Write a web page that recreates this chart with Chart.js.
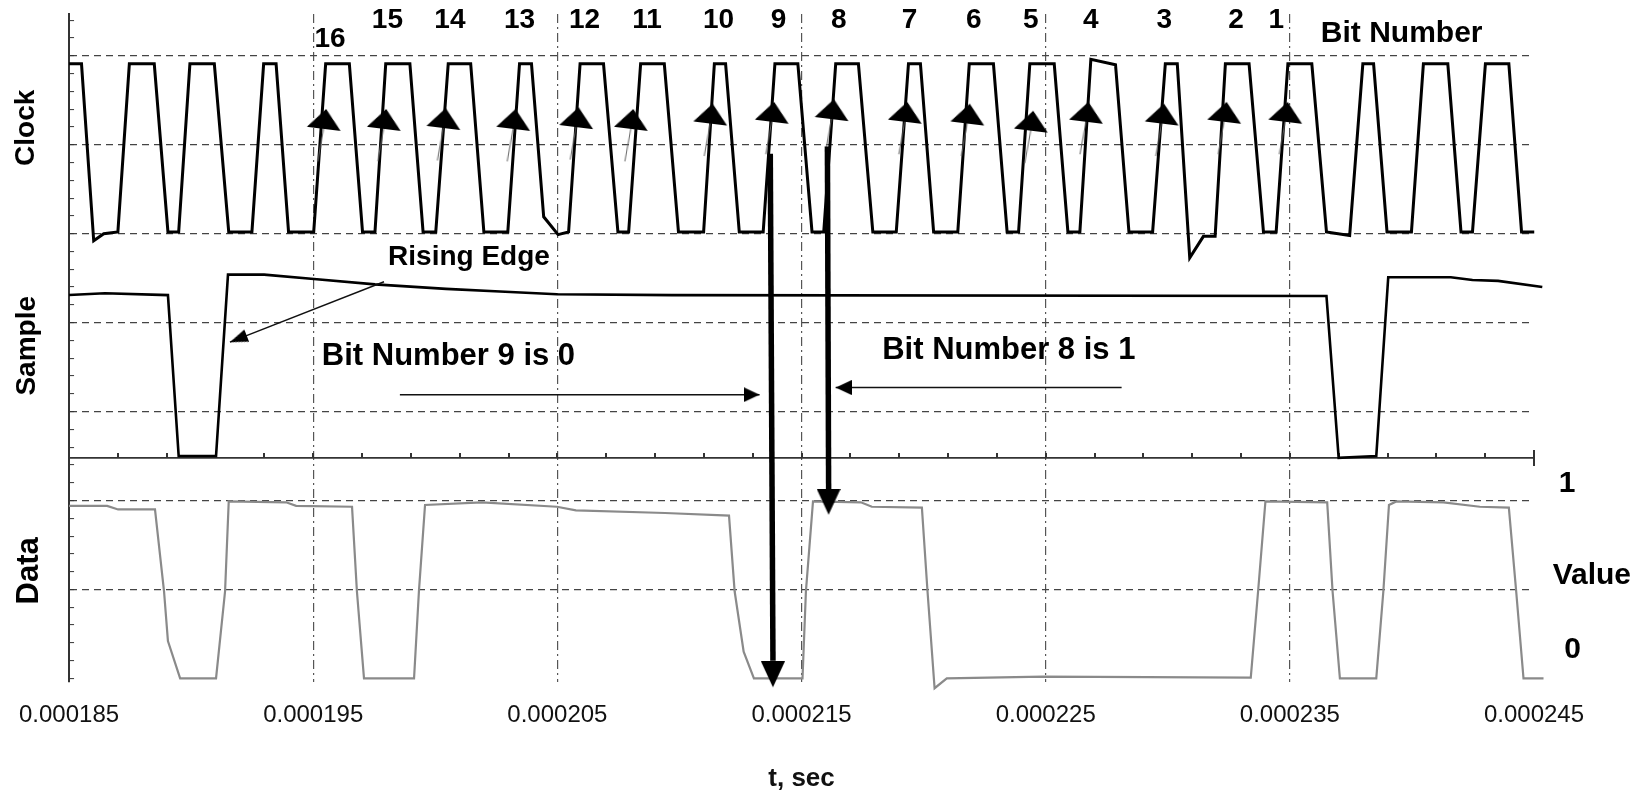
<!DOCTYPE html>
<html>
<head>
<meta charset="utf-8">
<script src="https://cdn.jsdelivr.net/npm/chart.js@4.4.1/dist/chart.umd.min.js"></script>
<style>
  html, body { margin: 0; padding: 0; background: #ffffff; }
  #wrap { width: 1650px; height: 793px; }
</style>
</head>
<body>
<div id="wrap"><canvas id="c" width="1650" height="793"></canvas></div>
<script>
// ---------------- DATA (time in microseconds, values in chart units) ----------------
const xTickValues = [185, 195, 205, 215, 225, 235, 245];
const xTickLabels = ['0.000185', '0.000195', '0.000205', '0.000215', '0.000225', '0.000235', '0.000245'];

// Clock trace (vertices)
const clockT = [
  185.00, 185.51, 186.01, 186.42, 187.00,
  187.47, 188.49, 189.05, 189.49,
  189.95, 190.95, 191.54, 192.49,
  192.97, 193.48, 193.99, 195.02,
  195.51, 196.48, 197.02, 197.53,
  197.97, 198.96, 199.50, 200.02,
  200.53, 201.45, 201.99, 202.97,
  203.45, 203.94, 204.44, 205.03, 205.46,
  205.93, 206.89, 207.48, 207.92,
  208.41, 209.38, 209.96, 210.99,
  211.43, 211.89, 212.45, 213.43,
  213.91, 214.85, 215.43, 215.91,
  216.40, 217.33, 217.92, 218.88,
  219.38, 219.87, 220.41, 221.40,
  221.87, 222.86, 223.42, 223.89,
  224.35, 225.35, 225.91, 226.40,
  226.85, 227.86, 228.41, 229.38,
  229.90, 230.39, 230.90, 231.46, 231.94,
  232.36, 233.33, 233.92, 234.44,
  234.92, 235.90, 236.50, 237.45,
  237.99, 238.43, 238.98, 239.98,
  240.47, 241.47, 242.01, 242.48,
  243.01, 243.97, 244.49, 245.01,
  245.34
];
const clockV = [
  6.91, 6.91, 4.92, 5.00, 5.02,
  6.91, 6.91, 5.02, 5.02,
  6.91, 6.91, 5.02, 5.02,
  6.91, 6.91, 5.02, 5.02,
  6.91, 6.91, 5.02, 5.02,
  6.91, 6.91, 5.02, 5.02,
  6.91, 6.91, 5.02, 5.02,
  6.91, 6.91, 5.19, 4.99, 5.02,
  6.91, 6.91, 5.02, 5.02,
  6.91, 6.91, 5.02, 5.02,
  6.91, 6.91, 5.02, 5.02,
  6.91, 6.91, 5.02, 5.02,
  6.91, 6.91, 5.02, 5.02,
  6.91, 6.91, 5.02, 5.02,
  6.91, 6.91, 5.02, 5.02,
  6.91, 6.91, 5.02, 5.02,
  6.96, 6.90, 5.02, 5.02,
  6.91, 6.91, 4.73, 4.97, 4.97,
  6.91, 6.91, 5.02, 5.02,
  6.91, 6.91, 5.02, 4.98,
  6.91, 6.91, 5.02, 5.02,
  6.91, 6.91, 5.02, 5.02,
  6.91, 6.91, 5.02, 5.02,
  5.79
];

// Sample trace
const sampleT = [185.00, 186.47, 189.05, 189.49, 191.02, 191.51, 192.99, 195.03, 197.53, 200.44, 202.65,
                 204.98, 209.69, 236.50, 237.00, 238.54, 239.03, 241.59, 242.48, 243.53, 245.34];
const sampleV = [4.31, 4.33, 4.31, 2.50, 2.50, 4.54, 4.54, 4.49, 4.43, 4.38, 4.35,
                 4.32, 4.31, 4.30, 2.48, 2.50, 4.51, 4.51, 4.48, 4.47, 4.40];

// Data trace
const dataT = [185.00, 186.56, 187.01, 188.52, 188.89, 189.05, 189.55, 191.02, 191.39, 191.54,
               193.89, 194.30, 196.59, 196.79, 197.08, 199.13, 199.33, 199.58, 201.91, 204.98,
               205.76, 209.41, 212.03, 212.26, 212.63, 213.05, 215.04, 215.18, 215.47, 217.43,
               217.88, 219.93, 220.16, 220.45, 220.95, 224.89, 233.40, 233.70, 234.00, 236.53,
               236.75, 237.05, 238.54, 238.83, 239.06, 239.36, 241.29, 242.78, 243.97, 244.27,
               244.57, 245.39];
const dataV = [1.94, 1.94, 1.90, 1.90, 0.98, 0.42, 0.00, 0.00, 0.98, 1.99,
               1.98, 1.94, 1.93, 0.98, 0.00, 0.00, 0.98, 1.95, 1.98, 1.93,
               1.89, 1.86, 1.83, 0.98, 0.30, 0.00, 0.00, 0.98, 1.99, 1.98,
               1.93, 1.92, 0.98, -0.11, 0.00, 0.02, 0.01, 0.98, 1.99, 1.98,
               0.98, 0.00, 0.00, 0.98, 1.95, 1.99, 1.98, 1.93, 1.92, 0.98,
               0.00, 0.00];

// Bit markers on clock rising edges
const bitLabels = ['16', '15', '14', '13', '12', '11', '10', '9', '8', '7', '6', '5', '4', '3', '2', '1'];
const bitArrowT = [195.48, 197.94, 200.38, 203.24, 205.82, 208.06, 211.31, 213.83, 216.28, 219.28, 221.84, 224.44, 226.70, 229.80, 232.36, 234.86];
const bitArrowV = [6.29, 6.29, 6.30, 6.29, 6.31, 6.29, 6.35, 6.37, 6.40, 6.37, 6.35, 6.27, 6.37, 6.35, 6.37, 6.37];
const bitLabelT = [195.69, 198.04, 200.60, 203.45, 206.11, 208.67, 211.60, 214.06, 216.53, 219.42, 222.06, 224.39, 226.85, 229.86, 232.80, 234.44];
const bitLabelV = [7.19, 7.40, 7.40, 7.40, 7.40, 7.40, 7.40, 7.40, 7.40, 7.40, 7.40, 7.40, 7.40, 7.40, 7.40, 7.40];

// Sample-panel baseline and its small ticks
const sampleAxisT = [185, 245];
const sampleAxisV = [2.48, 2.48];
const sampleAxisTickT = [187, 189, 191, 193, 195, 197, 199, 201, 203, 205, 207, 209, 211, 213, 215,
                         217, 219, 221, 223, 225, 227, 229, 231, 233, 235, 237, 239, 241, 243];

// Thick arrows (bit 9 -> data 0, bit 8 -> data 1)
const bit9ArrowT = [213.72, 213.83];
const bit9ShaftV = [5.90, 0.20];
const bit9HeadV = -0.10;
const bit8ArrowT = [216.06, 216.11];
const bit8ShaftV = [5.98, 2.12];
const bit8HeadV = 1.84;

// Thin annotation arrows
const risingArrowT = [197.90, 191.59];
const risingArrowV = [4.46, 3.78];
const bit9NoteArrowT = [198.55, 213.28];
const bit9NoteArrowV = [3.19, 3.19];
const bit8NoteArrowT = [228.11, 216.40];
const bit8NoteArrowV = [3.27, 3.27];

// Text notes (data coordinates)
const notes = [
  { text: 'Rising Edge', t: 201.38, v: 4.73, size: 28 },
  { text: 'Bit Number 9 is 0', t: 200.54, v: 3.62, size: 31 },
  { text: 'Bit Number 8 is 1', t: 223.49, v: 3.69, size: 31 },
  { text: 'Bit Number', t: 239.58, v: 7.25, size: 30 },
  { text: '1', t: 246.36, v: 2.19, size: 30 },
  { text: 'Value', t: 247.37, v: 1.15, size: 30 },
  { text: '0', t: 246.58, v: 0.32, size: 30 }
];
const panelTitles = [
  { text: 'Clock', t: 183.57, v: 6.19, size: 28 },
  { text: 'Sample', t: 183.61, v: 3.74, size: 28 },
  { text: 'Data', t: 183.73, v: 1.21, size: 31 }
];

// ---------------- helpers ----------------
const FAMILY = "'Liberation Sans', Arial, Helvetica, sans-serif";
const pts = (ts, vs) => ts.map((t, i) => ({ x: t, y: vs[i] }));

function makeHead(w, len, color) { // apex at canvas centre, pointing up
  const c = document.createElement('canvas');
  c.width = w; c.height = len * 2;
  const g = c.getContext('2d');
  g.fillStyle = color;
  g.beginPath();
  g.moveTo(w / 2, len);
  g.lineTo(w, 2 * len);
  g.lineTo(0, 2 * len);
  g.closePath();
  g.fill();
  return c;
}
function makeBitMarker() {
  const c = document.createElement('canvas');
  c.width = 36; c.height = 90;
  const g = c.getContext('2d');
  g.strokeStyle = '#666'; g.lineWidth = 1;
  g.beginPath(); g.moveTo(18, 54); g.lineTo(16, 88); g.stroke();
  g.fillStyle = '#000';
  g.beginPath(); g.moveTo(18, 35); g.lineTo(35, 55); g.lineTo(1, 55); g.closePath(); g.fill();
  return c;
}
function makeTick(h, filled) {
  const c = document.createElement('canvas');
  c.width = 2; c.height = h;
  const g = c.getContext('2d');
  g.fillStyle = '#333';
  g.fillRect(0, 0, 2, filled);
  return c;
}

const bigHead = makeHead(24, 26, '#000');
const thinHeadA = makeHead(13, 18, '#000');
const thinHeadB = makeHead(15, 16, '#000');
const bitMarker = makeBitMarker();
const upTick = makeTick(10, 5);
const endTick = makeTick(16, 16);

const yTickValues = [];
for (let k = 0; k <= 37; k++) yTickValues.push(Math.round(k * 2) / 10);

const annotationPlugin = {
  id: 'annotationText',
  afterDatasetsDraw(chart) {
    const { ctx, scales: { x, y } } = chart;
    ctx.save();
    ctx.fillStyle = '#000';
    ctx.textAlign = 'center';
    ctx.textBaseline = 'middle';
    ctx.font = `bold 28px ${FAMILY}`;
    bitLabels.forEach((s, i) => ctx.fillText(s, x.getPixelForValue(bitLabelT[i]), y.getPixelForValue(bitLabelV[i])));
    notes.forEach(n => {
      ctx.font = `bold ${n.size}px ${FAMILY}`;
      ctx.fillText(n.text, x.getPixelForValue(n.t), y.getPixelForValue(n.v));
    });
    panelTitles.forEach(p => {
      ctx.save();
      ctx.translate(x.getPixelForValue(p.t), y.getPixelForValue(p.v));
      ctx.rotate(-Math.PI / 2);
      ctx.textBaseline = 'alphabetic';
      ctx.font = `bold ${p.size}px ${FAMILY}`;
      ctx.fillText(p.text, 0, 0);
      ctx.restore();
    });
    ctx.restore();
  }
};

const lineDs = (data, color, width, extra) => Object.assign({
  type: 'line', data, borderColor: color, borderWidth: width, pointRadius: 0,
  fill: false, tension: 0, clip: false
}, extra || {});
const markerDs = (data, style, rotation) => ({
  type: 'line', data, showLine: false, pointStyle: style, pointRadius: 12,
  pointRotation: rotation, pointBackgroundColor: '#000', pointBorderWidth: 0, clip: false
});

new Chart(document.getElementById('c'), {
  type: 'line',
  data: {
    datasets: [
      markerDs([{ x: bit9ArrowT[1], y: bit9HeadV }, { x: bit8ArrowT[1], y: bit8HeadV }], bigHead, 180),
      lineDs(pts(bit9ArrowT, bit9ShaftV), '#000', 5.5),
      lineDs(pts(bit8ArrowT, bit8ShaftV), '#000', 5.5),
      markerDs([{ x: risingArrowT[1], y: risingArrowV[1] }], thinHeadA, 248.5),
      markerDs([{ x: bit9NoteArrowT[1], y: bit9NoteArrowV[1] }, { x: bit8NoteArrowT[1], y: bit8NoteArrowV[1] }], thinHeadB, [90, 270]),
      lineDs(pts(risingArrowT, risingArrowV), '#111', 1.4),
      lineDs(pts(bit9NoteArrowT, bit9NoteArrowV), '#111', 1.5),
      lineDs(pts(bit8NoteArrowT, bit8NoteArrowV), '#111', 1.5),
      markerDs(pts(bitArrowT, bitArrowV), bitMarker, 7),
      lineDs(pts(clockT, clockV), '#000', 3),
      lineDs(pts(sampleT, sampleV), '#000', 2.6),
      lineDs(pts(dataT, dataV), '#8a8a8a', 2.2),
      lineDs(pts(sampleAxisT, sampleAxisV), '#333', 1.6),
      markerDs(sampleAxisTickT.map(t => ({ x: t, y: sampleAxisV[0] })), upTick, 0),
      markerDs([{ x: sampleAxisT[1], y: sampleAxisV[1] }], endTick, 0)
    ]
  },
  options: {
    responsive: false,
    animation: false,
    devicePixelRatio: 1,
    events: [],
    layout: { padding: { left: 0, right: 116, top: 14, bottom: 0 } },
    plugins: { legend: { display: false }, tooltip: { enabled: false } },
    scales: {
      x: {
        type: 'linear', min: 185, max: 245,
        afterBuildTicks: s => { s.ticks = xTickValues.map(v => ({ value: v })); },
        afterFit: s => { s.height = 111; },
        border: { display: false, dash: [9, 4, 2, 4] },
        grid: {
          color: c => (c.tick && (c.tick.value === 185 || c.tick.value === 245)) ? 'rgba(0,0,0,0)' : '#555',
          lineWidth: 1.2, drawTicks: false
        },
        ticks: {
          callback: (v, i) => xTickLabels[i],
          font: { family: FAMILY, size: 24 }, color: '#111', padding: 19,
          maxRotation: 0, autoSkip: false
        },
        title: {
          display: true, text: 't, sec', color: '#111',
          font: { family: FAMILY, size: 26, weight: 'bold', lineHeight: 1 },
          padding: { top: 0, bottom: 1 }
        }
      },
      y: {
        type: 'linear', min: -0.04, max: 7.47,
        afterBuildTicks: s => { s.ticks = yTickValues.map(v => ({ value: v })); },
        afterFit: s => { s.width = 69; },
        border: { display: true, color: '#333', width: 2, dash: [7, 5] },
        grid: {
          color: c => {
            const v = c.tick ? c.tick.value : 0;
            return (Math.abs(v - Math.round(v)) < 1e-6 && v >= 1) ? '#444' : 'rgba(0,0,0,0)';
          },
          lineWidth: 1.2, tickLength: -5, tickColor: '#333', tickWidth: 1
        },
        ticks: { display: false }
      }
    }
  },
  plugins: [annotationPlugin]
});
</script>
</body>
</html>
